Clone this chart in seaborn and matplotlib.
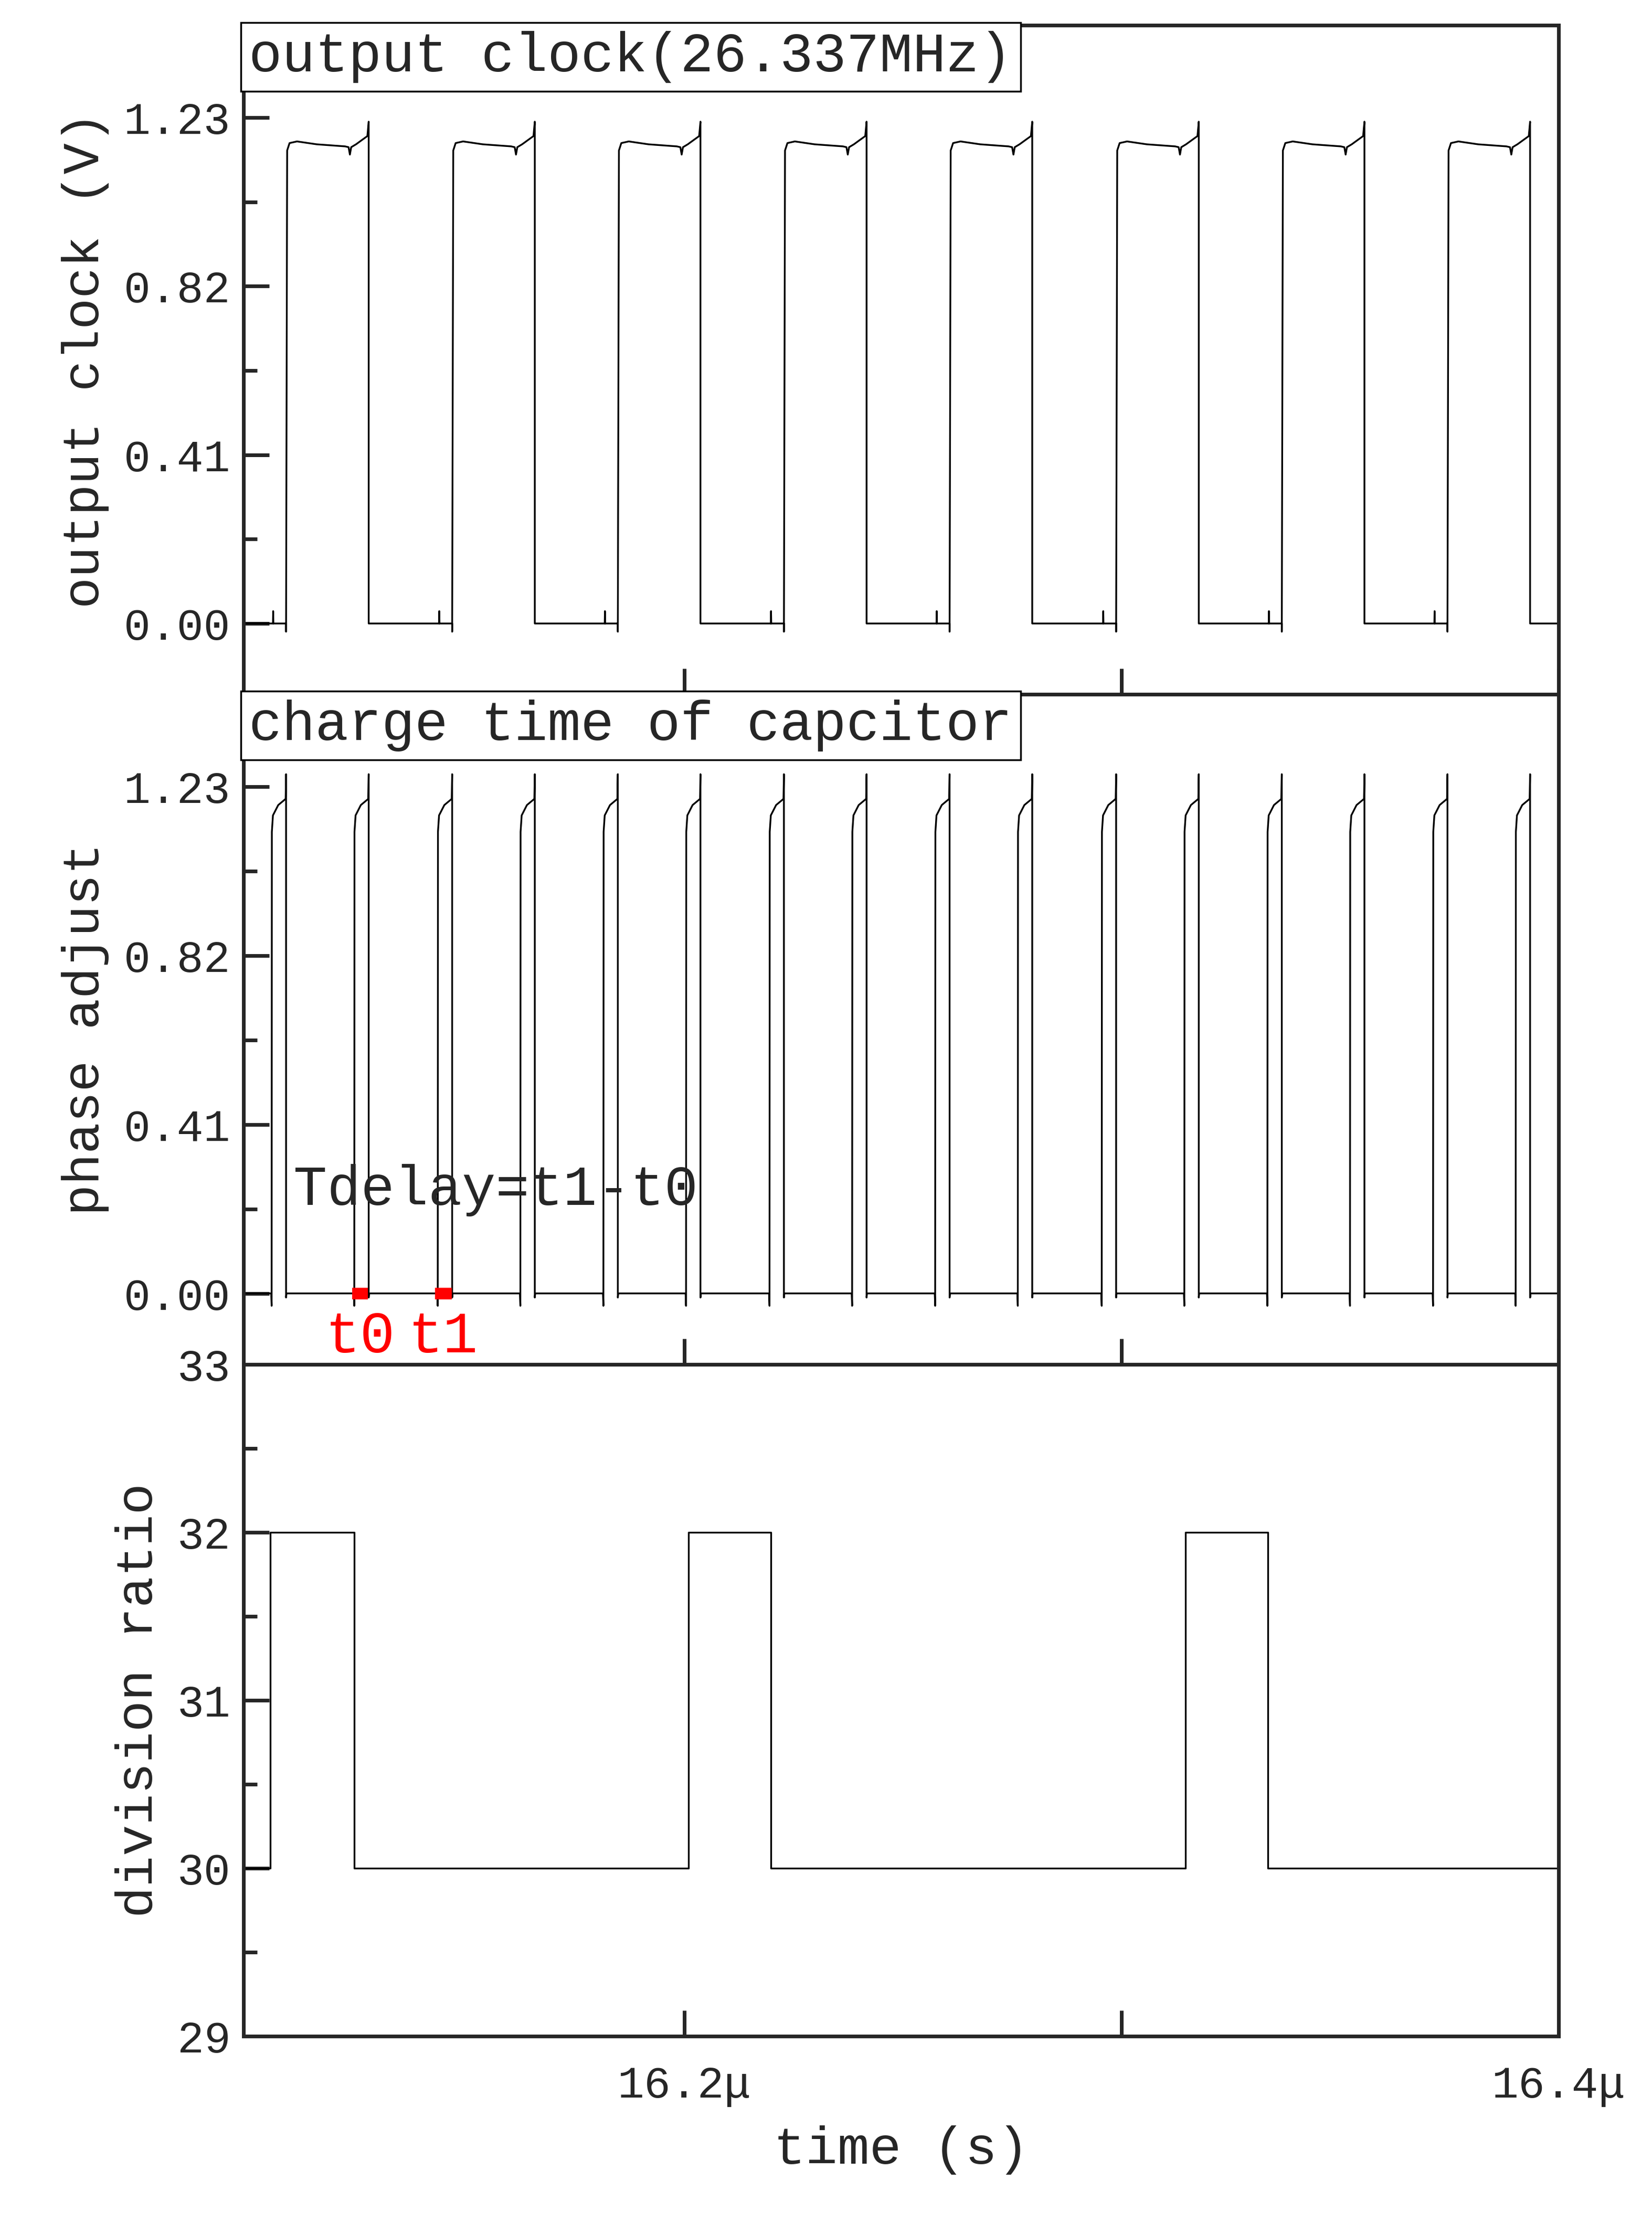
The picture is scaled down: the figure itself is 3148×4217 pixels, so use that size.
import numpy as np
import pandas as pd
import matplotlib
matplotlib.use("Agg")
import matplotlib.pyplot as plt
from matplotlib.ticker import FixedLocator, MultipleLocator, FuncFormatter, NullFormatter
import seaborn as sns

# ---------------------------------------------------------------
# data (time in ns)
clock_rise_ns = [16108.9, 16146.9, 16184.8, 16222.8, 16260.7, 16298.8, 16336.7, 16374.6]
clock_high_ns = 18.9
# one clock cycle: offset from rising edge (ns), voltage (V)
cyc_off = [-3.3, -3.0, -2.95, -2.9, 0.0, 0.0, 0.25, 0.8, 2.5, 7.0, 13.5, 14.3, 14.6, 14.9, 16.0, 18.6, 18.9, 18.9]
cyc_val = [0.0, 0.0, 0.03, 0.0, 0.0, -0.02, 1.15, 1.168, 1.172, 1.165, 1.16, 1.158, 1.14, 1.158, 1.165, 1.185, 1.22, 0.0]
# phase adjust pulse: offset from its falling edge (ns), voltage (V)
pul_off = [-3.4, -3.3, -3.25, -3.0, -1.8, -0.1, 0.0, 0.0, 0.1]
pul_val = [0.0, -0.03, 1.12, 1.16, 1.185, 1.2, 1.26, -0.01, 0.0]

# division ratio steps
div_t = [16099.2, 16105.3, 16124.5, 16201.0, 16219.8, 16314.7, 16333.5, 16400.0]
div_v = [30, 32, 30, 32, 30, 32, 30, 30]

t0_ns = (16124.0, 16127.6)
t1_ns = (16143.0, 16146.8)

x_lo, x_hi = 16.0992, 16.4
# ---------------------------------------------------------------

# build clock trace
ct, cv = [x_lo * 1000], [0.0]
for r in clock_rise_ns:
    for o, v in zip(cyc_off, cyc_val):
        ct.append(r + o); cv.append(v)
ct.append(x_hi * 1000); cv.append(0.0)
clk = pd.DataFrame({"t": np.array(ct) / 1000, "v": cv})

# phase pulses fall at every clock edge
edges = []
for r in clock_rise_ns:
    edges += [r, r + clock_high_ns]
pt, pv = [x_lo * 1000], [0.0]
for e in edges:
    for o, v in zip(pul_off, pul_val):
        pt.append(e + o); pv.append(v)
pt.append(x_hi * 1000); pv.append(0.0)
pha = pd.DataFrame({"t": np.array(pt) / 1000, "v": pv})

div = pd.DataFrame({"t": np.array(div_t) / 1000, "v": div_v})

sns.set_theme(style="ticks")
FONT = "Liberation Mono"
plt.rcParams["font.family"] = [FONT, "DejaVu Sans"]

fig = plt.figure(figsize=(31.48, 42.17), dpi=100)
L, R = 0.1475, 0.9434
tops = [0.9885, 0.6863, 0.3835]
bots = [0.6863, 0.3835, 0.080]
axes = [fig.add_axes([L, b, R - L, t - b]) for t, b in zip(tops, bots)]

lw = 2.4
sns.lineplot(data=clk, x="t", y="v", ax=axes[0], color="black", lw=lw, sort=False, estimator=None)
sns.lineplot(data=pha, x="t", y="v", ax=axes[1], color="black", lw=lw, sort=False, estimator=None)
sns.lineplot(data=div, x="t", y="v", ax=axes[2], color="black", lw=lw, drawstyle="steps-post",
             sort=False, estimator=None)

for seg in (t0_ns, t1_ns):
    axes[1].plot([seg[0] / 1000, seg[1] / 1000], [0, 0], color="red", lw=16, solid_capstyle="butt")
axes[1].text(t0_ns[0] / 1000 + 0.0018, -0.04, "t0", color="red", fontsize=80, ha="center", va="top")
axes[1].text(t1_ns[0] / 1000 + 0.0018, -0.04, "t1", color="red", fontsize=80, ha="center", va="top")
axes[1].text(16.1106, 0.25, "Tdelay=t1-t0", fontsize=77, ha="left", va="center")

titles = ["output clock(26.337MHz)", "charge time of capcitor"]
for ax, ttl in zip(axes[:2], titles):
    ax.text(0.004, 0.992, ttl, transform=ax.transAxes, fontsize=76, ha="left", va="top",
            bbox=dict(boxstyle="square,pad=0.15", fc="white", ec="black", lw=2.5))

ylabels = ["output clock (V)", "phase adjust", "division ratio"]


def make_fmt(show):
    def f(v, p):
        if show and round(v * 10) % 2 == 0:
            return f"{v:.1f}\u03bc"
        return ""
    return FuncFormatter(f)


for i, ax in enumerate(axes):
    ax.set_xlim(x_lo, x_hi)
    ax.xaxis.set_major_locator(FixedLocator([16.2, 16.3, 16.4]))
    ax.xaxis.set_major_formatter(make_fmt(i == 2))
    ax.set_xlabel("")
    ax.set_ylabel(ylabels[i], fontsize=71, labelpad=20)
    for s in ax.spines.values():
        s.set_visible(True)
        s.set_linewidth(5)
    ax.tick_params(axis="both", which="major", direction="in", length=35, width=5, labelsize=61, pad=18)
    ax.tick_params(axis="both", which="minor", direction="in", length=19, width=5)
    ax.tick_params(axis="x", which="major", pad=40)

for ax in axes[:2]:
    ax.set_ylim(-0.172, 1.454)
    ax.set_yticks([0.0, 0.41, 0.82, 1.23])
    ax.yaxis.set_major_formatter(FuncFormatter(lambda v, p: f"{v:.2f}"))
    ax.yaxis.set_minor_locator(FixedLocator([0.205, 0.615, 1.025]))

axes[2].set_ylim(29, 33)
axes[2].set_yticks([29, 30, 31, 32, 33])
axes[2].yaxis.set_minor_locator(MultipleLocator(0.5))
axes[2].set_xlabel("time (s)", fontsize=73, labelpad=25)

fig.savefig("out.png", dpi=100)
